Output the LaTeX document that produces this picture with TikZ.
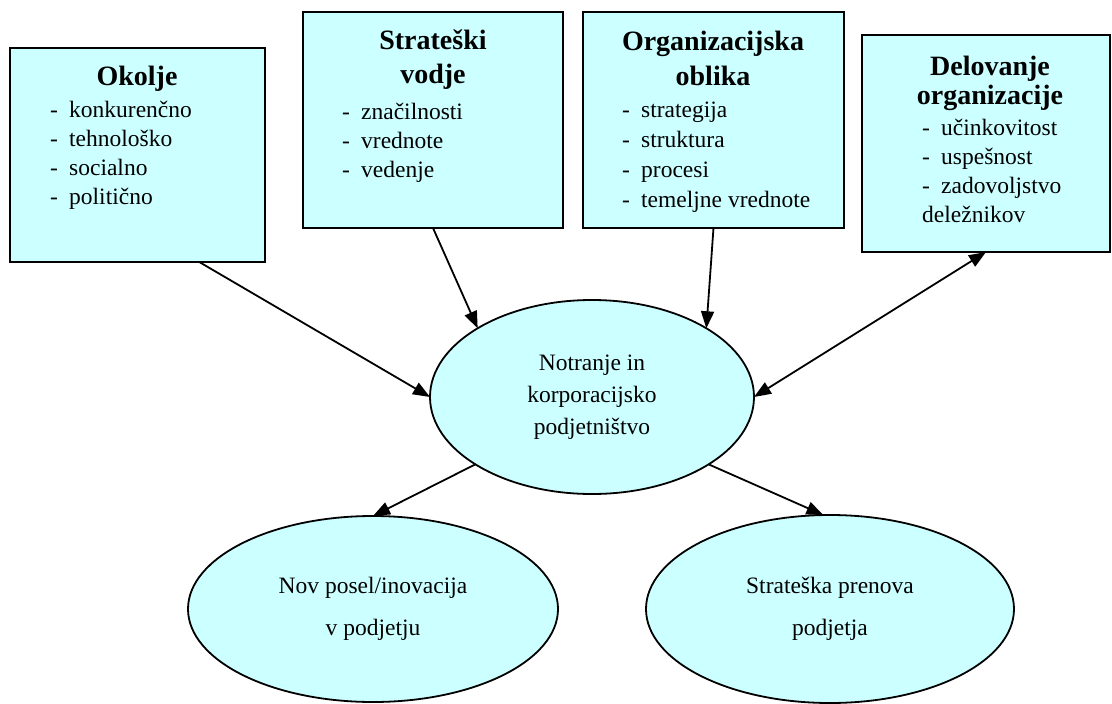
\documentclass[tikz,border=0pt]{standalone}
\usepackage{fontspec}
\setmainfont{Liberation Serif}
\usetikzlibrary{arrows.meta,shapes.geometric}

\definecolor{svetlomodra}{HTML}{CCFFFF}

\tikzset{
	okvir/.style={draw, line width=2.5pt, fill=svetlomodra, inner sep=0pt, outer sep=0pt},
	elipsa/.style={draw, ellipse, line width=1.8pt, fill=svetlomodra, inner sep=0pt, outer sep=0pt,
		align=center, font=\fontsize{23.5}{32}\selectfont},
	naslov/.style={anchor=base, align=center, inner sep=0pt, font=\bfseries\fontsize{28}{34}\selectfont},
	seznam/.style={anchor=base west, align=left, inner sep=0pt, font=\fontsize{23.5}{29}\selectfont},
	puscica/.style={-{Triangle[length=17pt,width=13pt]}, line width=1.8pt},
}
\newcommand{\crta}{\makebox[19pt][l]{-}}

\begin{document}
\begin{tikzpicture}[x=1pt,y=-1pt]
		\useasboundingbox (0,0) rectangle (1112,704);
		
		% Okvirji
		\node[okvir, minimum width=255, minimum height=214] (okolje) at (137.5,155) {};
		\node[okvir, minimum width=260, minimum height=216] (vodje) at (433,120) {};
		\node[okvir, minimum width=261, minimum height=216] (oblika) at (713.5,120) {};
		\node[okvir, minimum width=248, minimum height=217] (delovanje) at (986,143.5) {};
		
		% Naslovi (base = zadnja vrstica)
		\node[naslov] (okoljeN) at (137,85) {Okolje};
		\node[naslov] (vodjeN) at (433,83) {Strateški\\vodje};
		\node[naslov, font=\bfseries\fontsize{28}{35}\selectfont] (oblikaN) at (713,85) {Organizacijska\\oblika};
		\node[naslov, font=\bfseries\fontsize{28}{29}\selectfont] (delovanjeN) at (990,104) {Delovanje\\organizacije};
		
		% Seznami
		\node[seznam] (okoljeS) at (50,204) {\crta konkurenčno\\\crta tehnološko\\\crta socialno\\\crta politično};
		\node[seznam] (vodjeS) at (342,177) {\crta značilnosti\\\crta vrednote\\\crta vedenje};
		\node[seznam, font=\fontsize{23.5}{30}\selectfont] (oblikaS) at (622,207) {\crta strategija\\\crta struktura\\\crta procesi\\\crta temeljne vrednote};
		\node[seznam] (delovanjeS) at (922,222) {\crta učinkovitost\\\crta uspešnost\\\crta zadovoljstvo\\deležnikov};
		
		% Elipse
		\node[elipsa, minimum width=324, minimum height=194] (podjetnistvo) at (592,397) {Notranje in\\korporacijsko\\podjetništvo};
		\node[elipsa, minimum width=370, minimum height=186, font=\fontsize{23.5}{42}\selectfont] (inovacija) at (373,609) {Nov posel/inovacija\\v podjetju};
		\node[elipsa, minimum width=368, minimum height=188, font=\fontsize{23.5}{42}\selectfont] (prenova) at (830,609) {Strateška prenova\\podjetja};
		
		% Puscice
		\draw[puscica] (okolje.-60) -- (podjetnistvo.west);
		\draw[puscica] (vodje.south) -- (podjetnistvo.149);
		\draw[puscica] (oblika.south) -- (podjetnistvo.31);
		\draw[puscica, {Triangle[length=17pt,width=13pt]}-{Triangle[length=17pt,width=13pt]}] (podjetnistvo.east) -- (delovanje.south);
		\draw[puscica] (podjetnistvo.210) -- (inovacija.north);
		\draw[puscica] (podjetnistvo.330) -- (prenova.94);
		
	\end{tikzpicture}
\end{document}
